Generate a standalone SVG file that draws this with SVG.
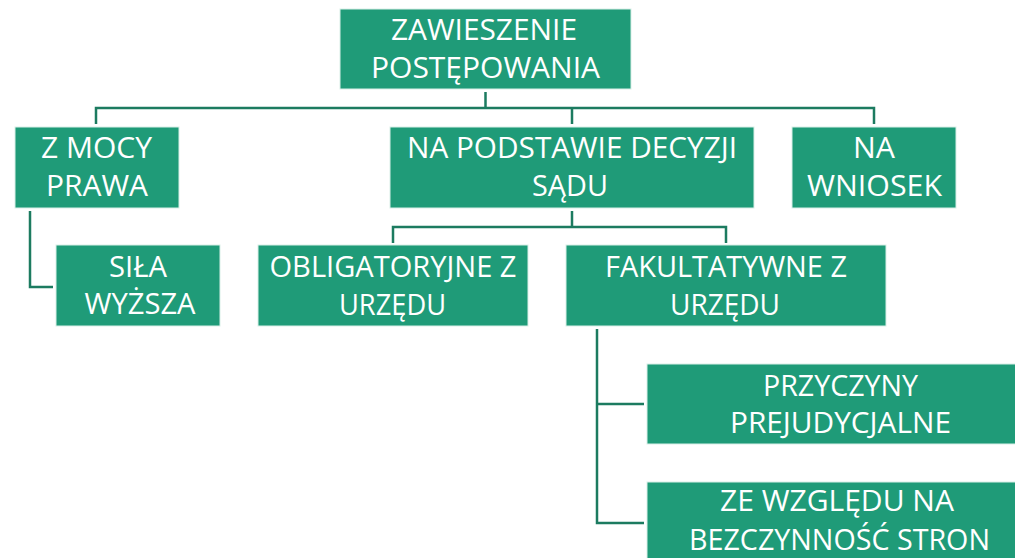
<svg xmlns="http://www.w3.org/2000/svg" width="1015" height="558" viewBox="0 0 1015 558">
<style>
.box{fill:#1f9b78;stroke:#d9efe8;stroke-width:1}
.t{font-family:"Open Sans","Liberation Sans",sans-serif;font-size:29px;font-weight:400;fill:#ffffff;text-anchor:middle}
.c{fill:none;stroke:#1c7b60;stroke-width:2.5}
</style>
<rect width="1015" height="558" fill="#ffffff"/>
<g id="connectors">
<path class="c" d="M485.5,92 V108 M96,124 V108 H874 V124 M572,108 V124"/>
<path class="c" d="M30,211 V287 H53"/>
<path class="c" d="M572,211 V227 M393,243 V227 H726 V243"/>
<path class="c" d="M597,329 V523 H644 M597,404 H644"/>
</g>
<g id="root">
<rect class="box" x="340" y="9" width="291" height="80"/>
<text class="t" x="484" y="40" textLength="186" lengthAdjust="spacingAndGlyphs">ZAWIESZENIE</text>
<text class="t" x="485.5" y="78" textLength="229" lengthAdjust="spacingAndGlyphs">POSTĘPOWANIA</text>
</g>
<g id="z-mocy-prawa">
<rect class="box" x="15" y="127" width="164" height="81"/>
<text class="t" x="96.5" y="158" textLength="111" lengthAdjust="spacingAndGlyphs">Z MOCY</text>
<text class="t" x="97" y="196" textLength="102" lengthAdjust="spacingAndGlyphs">PRAWA</text>
</g>
<g id="na-podstawie">
<rect class="box" x="390" y="127" width="364" height="81"/>
<text class="t" x="572" y="158" textLength="330" lengthAdjust="spacingAndGlyphs">NA PODSTAWIE DECYZJI</text>
<text class="t" x="570" y="196" textLength="76" lengthAdjust="spacingAndGlyphs">SĄDU</text>
</g>
<g id="na-wniosek">
<rect class="box" x="792" y="127" width="164" height="81"/>
<text class="t" x="874" y="158" textLength="42" lengthAdjust="spacingAndGlyphs">NA</text>
<text class="t" x="874.5" y="196" textLength="135" lengthAdjust="spacingAndGlyphs">WNIOSEK</text>
</g>
<g id="sila-wyzsza">
<rect class="box" x="56" y="245" width="164" height="81"/>
<text class="t" x="138" y="277" textLength="58" lengthAdjust="spacingAndGlyphs">SIŁA</text>
<text class="t" x="140" y="314" textLength="111" lengthAdjust="spacingAndGlyphs">WYŻSZA</text>
</g>
<g id="obligatoryjne">
<rect class="box" x="258" y="245" width="270" height="81"/>
<text class="t" x="393" y="277" textLength="247" lengthAdjust="spacingAndGlyphs">OBLIGATORYJNE Z</text>
<text class="t" x="392.5" y="315" textLength="107" lengthAdjust="spacingAndGlyphs">URZĘDU</text>
</g>
<g id="fakultatywne">
<rect class="box" x="566" y="245" width="320" height="81"/>
<text class="t" x="726" y="277" textLength="242" lengthAdjust="spacingAndGlyphs">FAKULTATYWNE Z</text>
<text class="t" x="725" y="315" textLength="110" lengthAdjust="spacingAndGlyphs">URZĘDU</text>
</g>
<g id="przyczyny">
<rect class="box" x="647" y="364" width="390" height="80"/>
<text class="t" x="840.5" y="396" textLength="155" lengthAdjust="spacingAndGlyphs">PRZYCZYNY</text>
<text class="t" x="840.5" y="433" textLength="221" lengthAdjust="spacingAndGlyphs">PREJUDYCJALNE</text>
</g>
<g id="ze-wzgledu">
<rect class="box" x="647" y="482" width="390" height="90"/>
<text class="t" x="837" y="511" textLength="234" lengthAdjust="spacingAndGlyphs">ZE WZGLĘDU NA</text>
<text class="t" x="839.5" y="550" textLength="301" lengthAdjust="spacingAndGlyphs">BEZCZYNNOŚĆ STRON</text>
</g>
</svg>
